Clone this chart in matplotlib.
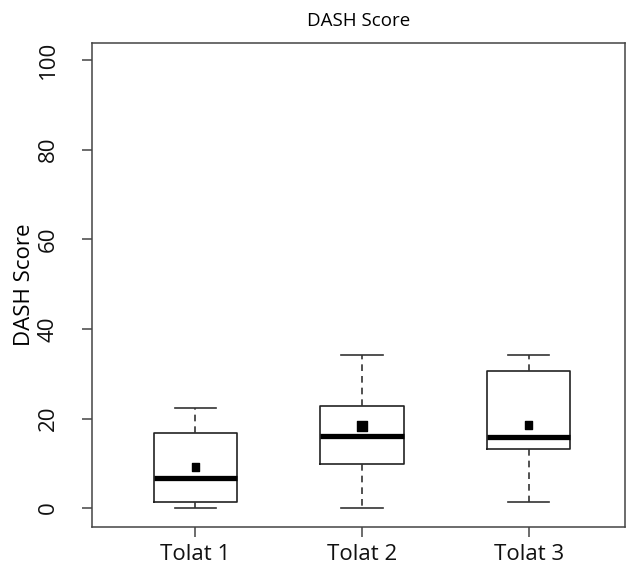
import numpy as np
import matplotlib.pyplot as plt

plt.rcParams['font.family'] = ['Open Sans', 'DejaVu Sans']

# box statistics
labels = ['Tolat 1', 'Tolat 2', 'Tolat 3']
whislo = [0.0, 0.0, 1.4]
q1 = [1.3, 9.9, 13.3]
med = [6.8, 16.1, 15.8]
q3 = [16.7, 22.8, 30.6]
whishi = [22.3, 34.2, 34.2]
means = [9.2, 18.4, 18.5]

stats = []
for i in range(len(labels)):
    stats.append(dict(label=labels[i], whislo=whislo[i], q1=q1[i], med=med[i],
                      q3=q3[i], whishi=whishi[i], fliers=[]))

fig = plt.figure(figsize=(6.36, 5.74), dpi=100)
ax = fig.add_axes([0.145, 0.082, 0.838, 0.843])

pos = np.arange(1, len(labels) + 1)
ax.bxp(stats, positions=pos, widths=0.5, showfliers=False,
       boxprops=dict(color='#222222', linewidth=1.2),
       whiskerprops=dict(color='#333333', linewidth=1.2, linestyle=(0, (4, 3))),
       capprops=dict(color='#333333', linewidth=1.2),
       medianprops=dict(color='black', linewidth=3.8, solid_capstyle='butt'),
       capwidths=0.25)
ax.scatter(pos, means, s=[30, 50, 30], marker='s', color='black', zorder=4)

ax.set_xlim(0.38, 3.58)
ax.set_ylim(-4.2, 103.8)
ax.set_yticks([0, 20, 40, 60, 80, 100])
ax.set_yticklabels(['0', '20', '40', '60', '80', '100'], rotation=90, va='center')
ax.set_xticks(pos)
ax.set_xticklabels(labels)
ax.tick_params(axis='both', length=7, width=1.1, color='#444444', labelsize=16,
               labelcolor='#111111')
ax.tick_params(axis='x', pad=5)
ax.tick_params(axis='y', pad=17)
for s in ax.spines.values():
    s.set_color('#444444')
    s.set_linewidth(1.1)

ax.set_ylabel('DASH Score', fontsize=16, labelpad=2)
ax.set_title('DASH Score', fontsize=13.5, pad=12)

fig.savefig('out.png', dpi=100)
